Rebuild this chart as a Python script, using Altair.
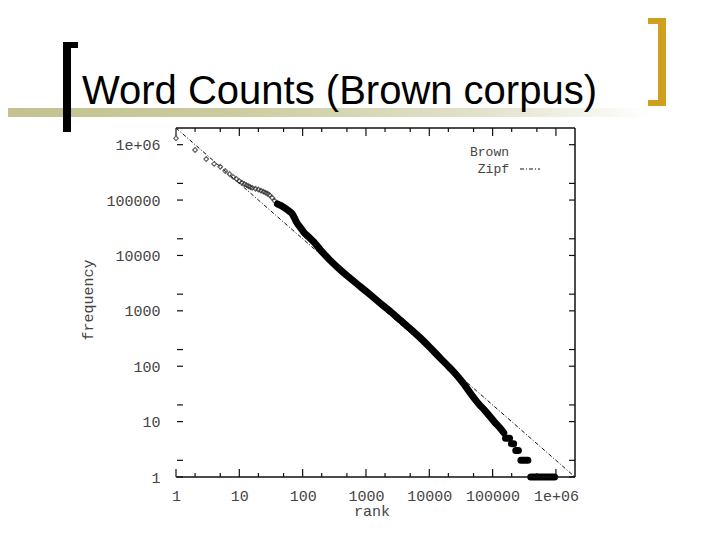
import altair as alt
import pandas as pd

W, H = 399, 349          # plot area
LEFT, TOP = 176, 128     # plot origin on the page

# ---- data ----
head_rank = [1, 2, 3, 4, 5, 6, 7, 8, 9, 10, 11, 12, 13, 14, 15, 16, 18, 20, 22, 24, 26, 28, 30, 33, 36, 40]
head_freq = [1300000, 800000, 550000, 450000, 400000, 335000, 295000, 262000, 240000, 220000,
             205000, 195000, 186000, 178000, 171000, 166000, 160000, 155000, 148000, 142000,
             136000, 130000, 123000, 110000, 97000, 85000]

body_rank = [40, 45, 52, 60, 68, 74, 80, 92, 105, 125, 150, 192, 260, 397, 560, 819, 1200, 1690,
             2500, 3490, 5000, 7210, 10370, 14900, 21400, 27300, 35000, 44200, 60000, 75000,
             91400, 110000, 131000, 150000]
body_freq = [85000, 80000, 72000, 64000, 57000, 48000, 40000, 32000, 26000, 21500, 17500, 12500,
             8600, 5450, 3900, 2720, 1900, 1365, 950, 680, 475, 325, 215, 140, 92, 68, 48, 33,
             21, 16, 12.3, 9.5, 7.7, 6.3]

tail_freq = [5, 4, 3, 2, 1]
tail_start = [160000, 198000, 232000, 280000, 400000]
tail_end = [185000, 215000, 255000, 360000, 950000]

zipf_rank = [1, 2000000]
zipf_freq = [2000000, 1]

major_ticks = [1, 10, 100, 1000, 10000, 100000, 1000000]
x_minor_ticks = [2, 5, 20, 50, 200, 500, 2000, 5000, 20000, 50000, 200000, 500000]
y_minor_ticks = [2, 20, 200, 2000, 20000, 200000]

title_text = "Word Counts (Brown corpus)"
x_title = "rank"
y_title = "frequency"
legend_labels = ["Brown", "Zipf"]

# ---- scales / axes ----
LBL_FONT = "Liberation Mono"
LBL_COLOR = "#444444"
xs = alt.Scale(type="log", domain=[1, 2000000], nice=False)
ys = alt.Scale(type="log", domain=[1, 2000000], nice=False)
lab_expr = "datum.value >= 999999 ? '1e+06' : format(datum.value, 'd')"
xaxis = alt.Axis(values=major_ticks, labelExpr=lab_expr, domain=False, ticks=False, tickSize=0,
                 grid=False, labelFont=LBL_FONT, labelFontSize=15, labelColor=LBL_COLOR,
                 labelPadding=11, labelOverlap=False, labelFlush=False, title=None)
yaxis = alt.Axis(values=major_ticks, labelExpr=lab_expr, domain=False, ticks=False, tickSize=0,
                 grid=False, labelFont=LBL_FONT, labelFontSize=15, labelColor=LBL_COLOR,
                 labelPadding=16, labelOverlap=False, labelFlush=False, title=None)


def X(field):
    return alt.X(field, type="quantitative", scale=xs, axis=xaxis)


def Y(field):
    return alt.Y(field, type="quantitative", scale=ys, axis=yaxis)


head_df = pd.DataFrame({"rank": head_rank, "freq": head_freq})
body_df = pd.DataFrame({"rank": body_rank, "freq": body_freq})
tail_df = pd.DataFrame({"freq": tail_freq, "start": tail_start, "end": tail_end})
zipf_df = pd.DataFrame({"rank": zipf_rank, "freq": zipf_freq})
one = pd.DataFrame({"a": [0]})

zipf = alt.Chart(zipf_df).mark_line(color="#111111", strokeWidth=1, strokeDash=[4, 2, 1, 2]).encode(
    x=X("rank"), y=Y("freq"))
head = alt.Chart(head_df).mark_point(shape="diamond", size=22, filled=False, strokeWidth=1.2,
                                     color="#222222").encode(x=X("rank"), y=Y("freq"))
body = alt.Chart(body_df).mark_line(color="black", strokeWidth=7, strokeCap="round",
                                    strokeJoin="round", interpolate="monotone").encode(
    x=X("rank"), y=Y("freq"))
tail = alt.Chart(tail_df).mark_rule(color="black", strokeWidth=7, strokeCap="round").encode(
    x=X("start"), x2="end", y=Y("freq"))

# frame (top, bottom, right) and inward ticks
frame_col = "#111111"
f_top = alt.Chart(one).mark_rule(color=frame_col, strokeWidth=1.5).encode(
    x=alt.value(0), x2=alt.value(W), y=alt.value(0))
f_bot = alt.Chart(one).mark_rule(color=frame_col, strokeWidth=1.5).encode(
    x=alt.value(0), x2=alt.value(W), y=alt.value(H))
f_right = alt.Chart(one).mark_rule(color=frame_col, strokeWidth=1.5).encode(
    x=alt.value(W), y=alt.value(0), y2=alt.value(H))

xmaj_df = pd.DataFrame({"v": major_ticks})
xmin_df = pd.DataFrame({"v": x_minor_ticks})
ymaj_df = pd.DataFrame({"v": major_ticks + y_minor_ticks})
tick_layers = [
    alt.Chart(xmaj_df).mark_rule(color=frame_col, strokeWidth=1.2).encode(x=X("v"), y=alt.value(H - 8), y2=alt.value(H)),
    alt.Chart(xmaj_df).mark_rule(color=frame_col, strokeWidth=1.2).encode(x=X("v"), y=alt.value(0), y2=alt.value(8)),
    alt.Chart(xmin_df).mark_rule(color=frame_col, strokeWidth=1.2).encode(x=X("v"), y=alt.value(H - 4), y2=alt.value(H)),
    alt.Chart(xmin_df).mark_rule(color=frame_col, strokeWidth=1.2).encode(x=X("v"), y=alt.value(0), y2=alt.value(4)),
    alt.Chart(ymaj_df).mark_rule(color=frame_col, strokeWidth=1.2).encode(y=Y("v"), x=alt.value(1), x2=alt.value(7)),
    alt.Chart(ymaj_df).mark_rule(color=frame_col, strokeWidth=1.2).encode(y=Y("v"), x=alt.value(W - 6), x2=alt.value(W)),
]

# axis titles and key
t_rank = alt.Chart(one).mark_text(text=x_title, font=LBL_FONT, fontSize=15, color=LBL_COLOR,
                                  align="center", baseline="middle").encode(
    x=alt.value(372 - LEFT), y=alt.value(511 - TOP))
t_freq = alt.Chart(one).mark_text(text=y_title, font=LBL_FONT, fontSize=15, color=LBL_COLOR,
                                  align="center", baseline="middle", angle=270).encode(
    x=alt.value(88 - LEFT), y=alt.value(300 - TOP))
k_brown = alt.Chart(one).mark_text(text=legend_labels[0], font=LBL_FONT, fontSize=13, color=LBL_COLOR,
                                   align="right", baseline="middle").encode(
    x=alt.value(509 - LEFT), y=alt.value(152 - TOP))
k_zipf = alt.Chart(one).mark_text(text=legend_labels[1], font=LBL_FONT, fontSize=13, color=LBL_COLOR,
                                  align="right", baseline="middle").encode(
    x=alt.value(509 - LEFT), y=alt.value(169 - TOP))
k_zipf_line = alt.Chart(one).mark_rule(color="#111111", strokeWidth=1, strokeDash=[4, 2, 1, 2]).encode(
    x=alt.value(520 - LEFT), x2=alt.value(540 - LEFT), y=alt.value(169 - TOP))

# slide decoration
grad = alt.Gradient(gradient="linear", x1=0, x2=1, y1=0, y2=0,
                    stops=[alt.GradientStop(color="#c2c18f", offset=0),
                           alt.GradientStop(color="#cccb9f", offset=0.35),
                           alt.GradientStop(color="#e3e2cc", offset=0.75),
                           alt.GradientStop(color="#ffffff", offset=1)])
bar = alt.Chart(one).mark_rect(color=grad).encode(
    x=alt.value(0 - LEFT), x2=alt.value(650 - LEFT), y=alt.value(108 - TOP), y2=alt.value(117 - TOP))


def box(x1, x2, y1, y2, col):
    return alt.Chart(one).mark_rect(color=col).encode(
        x=alt.value(x1 - LEFT), x2=alt.value(x2 - LEFT), y=alt.value(y1 - TOP), y2=alt.value(y2 - TOP))


GOLD = "#cf9f1e"
brackets = [
    box(63, 71, 42, 132, "black"),
    box(63, 78, 42, 48, "black"),
    box(658, 666, 18, 106, GOLD),
    box(648, 666, 18, 24, GOLD),
    box(648, 666, 100, 106, GOLD),
]
title = alt.Chart(one).mark_text(text=title_text, font="Liberation Sans", fontSize=40, color="black",
                                 align="left", baseline="alphabetic").encode(
    x=alt.value(82 - LEFT), y=alt.value(104 - TOP))

chart = alt.layer(
    bar, *brackets, title,
    zipf, head, body, tail,
    f_top, f_bot, f_right, *tick_layers,
    t_rank, t_freq, k_brown, k_zipf, k_zipf_line,
).properties(
    width=W, height=H,
    autosize=alt.AutoSizeParams(type="none"),
    padding={"left": LEFT - 8, "top": TOP - 8, "right": 704 - (LEFT - 8) - W, "bottom": 524 - (TOP - 8) - H},
    background="white",
).configure_view(stroke=None)

chart.save("out.html", embed_options={"renderer": "svg", "actions": False})
